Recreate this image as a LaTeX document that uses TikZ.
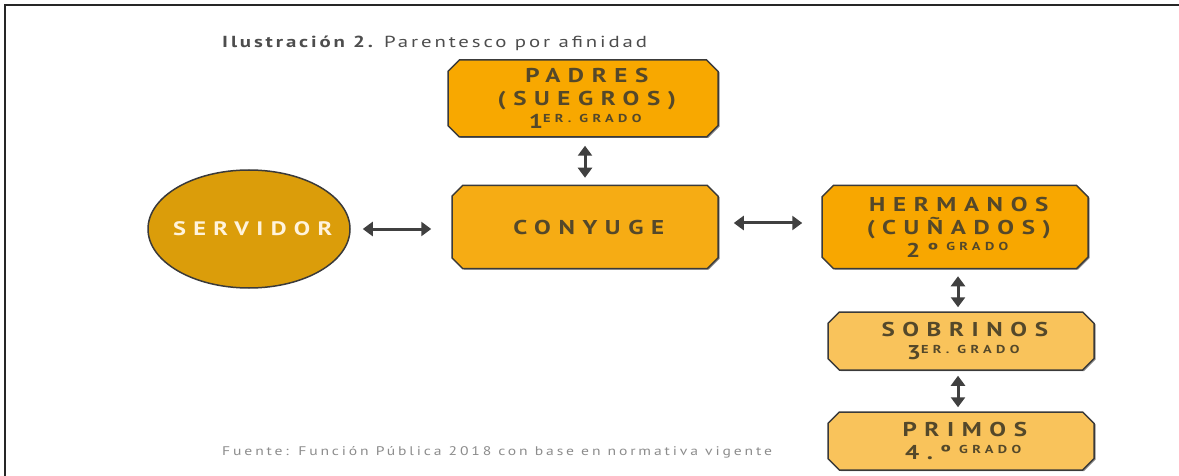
\documentclass[tikz,border=0pt]{standalone}
\usepackage{fontspec}
\setmainfont{PT Sans}
\newfontfamily\boxfont{PT Sans}[FakeStretch=1.25,LetterSpace=38]
\newfontfamily\footfont{PT Sans}[FakeStretch=1.25,LetterSpace=23]
\newfontfamily\titlefont{PT Sans}[FakeStretch=1.3,LetterSpace=18]
\usetikzlibrary{shapes.misc,shapes.geometric,arrows.meta,shadows}
\definecolor{padresfill}{HTML}{F8A800}
\definecolor{conyfill}{HTML}{F6AC14}
\definecolor{hermfill}{HTML}{F8A700}
\definecolor{lightfill}{HTML}{F9C35B}
\definecolor{servfill}{HTML}{DB9D0A}
\definecolor{boxtext}{HTML}{54482A}
\definecolor{arrowcol}{HTML}{404040}
\definecolor{boxline}{HTML}{3A3A3A}
\definecolor{servtext}{HTML}{FFF3DC}
\definecolor{titlecol}{HTML}{4D4D4D}
\definecolor{footcol}{HTML}{8C8C8C}
\newcommand{\tl}{\kern-0.38em}
\newcommand{\gradoline}[2]{{\fontsize{20}{23}\selectfont #1}\raisebox{6.5pt}{\fontsize{11.5}{12}\selectfont #2\tl}}
\begin{document}
\begin{tikzpicture}[x=1pt,y=-1pt,
  box/.style={chamfered rectangle, chamfered rectangle angle=45,
    chamfered rectangle xsep=8pt, draw=boxline, line width=1.5pt,
    inner sep=0pt, align=center, text=boxtext,
    drop shadow={shadow xshift=1.5pt, shadow yshift=-1pt, fill=black, opacity=0.45},
    font=\boxfont\bfseries\fontsize{20}{23}\selectfont},
  link/.style={draw=arrowcol, line width=3pt,
    {Triangle[width=14pt,length=10pt]}-{Triangle[width=14pt,length=10pt]}},
  title/.style={anchor=base west, inner sep=0pt, text=titlecol,
    font=\titlefont\fontsize{16}{18}\selectfont},
  foot/.style={anchor=base west, inner sep=0pt, text=footcol,
    font=\footfont\fontsize{12.5}{14}\selectfont}]
\useasboundingbox (0,0) rectangle (1179,476);
\fill[white] (0,0) rectangle (1179,476);
\draw[line width=2pt, black!85] (5,476) -- (5,5) -- (1179,5);

\node[title] (ttl) at (222,48) {{\bfseries Ilustración 2.} Parentesco por afinidad};

\node[box, fill=padresfill, minimum width=270pt, minimum height=77pt] (padres) at (583,98.5)
  {PADRES\tl\\(SUEGROS)\tl\\\gradoline{1}{ER. GRADO}};
\node[box, fill=conyfill, minimum width=266pt, minimum height=83pt] (conyuge) at (585,227)
  {CONYUGE\tl};
\node[ellipse, draw=boxline, line width=1.5pt, fill=servfill, minimum width=202pt,
  minimum height=118pt, inner sep=0pt, text=servtext,
  font=\boxfont\bfseries\fontsize{19.5}{23}\selectfont] (servidor) at (249,229)
  {\makebox[0pt][c]{SERVIDOR\tl}};
\node[box, fill=hermfill, minimum width=266pt, minimum height=83pt] (hermanos) at (955,227)
  {HERMANOS\tl\\(CUÑADOS)\tl\\\gradoline{2º}{ GRADO}};
\node[box, fill=lightfill, minimum width=266pt, minimum height=58pt] (sobrinos) at (961,341)
  {SOBRINOS\tl\\\gradoline{3}{ER. GRADO}};
\node[box, fill=lightfill, minimum width=266pt, minimum height=58pt] (primos) at (961,441)
  {PRIMOS\tl\\\gradoline{4.º}{ GRADO}};

\node[foot] (fuente) at (222,455) {Fuente: Función Pública 2018 con base en normativa vigente};

\draw[link, shorten <=8pt, shorten >=7pt] ([xshift=2pt]padres.south) -- ([xshift=2pt]padres.south |- conyuge.north);
\draw[link, shorten <=12pt, shorten >=20pt] (servidor.east) -- (servidor.east -| conyuge.west);
\draw[link, shorten <=15pt, shorten >=19pt] ([yshift=4pt]conyuge.east) -- ([yshift=4pt]conyuge.east -| hermanos.west);
\draw[link, shorten <=7pt, shorten >=4pt] ([xshift=3pt]hermanos.south) -- ([xshift=3pt]hermanos.south |- sobrinos.north);
\draw[link, shorten <=5pt, shorten >=4pt] ([xshift=-3pt]sobrinos.south) -- ([xshift=-3pt]sobrinos.south |- primos.north);
\end{tikzpicture}
\end{document}
